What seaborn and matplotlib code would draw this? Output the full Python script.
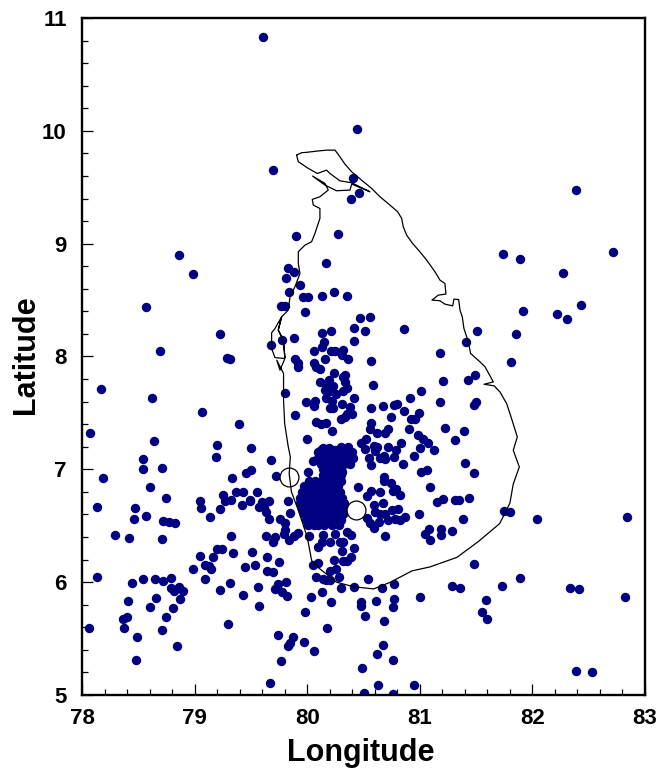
import matplotlib
matplotlib.use("Agg")
import matplotlib.pyplot as plt
from matplotlib.ticker import MultipleLocator
import pandas as pd
import seaborn as sns

# epicentres west of the island
west_lon = [79.07, 79.39, 78.07, 78.64, 79.20, 79.50, 78.54, 79.19, 79.68, 78.54, 78.71, 78.19, 79.33, 79.50, 79.46,
            79.72, 78.60, 78.75, 79.37, 79.43, 79.55, 79.25, 79.27, 79.32, 79.49, 79.49, 79.05, 79.06, 78.13, 78.47,
            79.42, 79.23, 79.60, 79.66, 79.57, 79.62, 79.63, 79.66, 78.57, 79.14, 78.46, 78.72, 78.77, 78.83, 78.29,
            78.42, 78.71, 79.32, 79.63, 79.71, 79.70, 79.20, 79.24, 79.34, 79.51, 79.05, 79.16, 79.64, 79.75, 79.09,
            79.13, 79.15, 79.54, 79.45, 78.99, 79.64, 79.70, 79.09, 78.54, 78.65, 78.72, 78.79, 78.13, 78.44, 79.31,
            79.56, 79.23, 79.71, 79.74, 79.81, 79.78, 79.82, 78.79, 78.82, 78.86, 78.90, 78.87, 78.66, 79.43, 78.41,
            78.60, 79.57, 78.81, 78.75, 78.36, 78.40, 79.30, 78.06, 78.37, 78.71, 78.49, 79.74, 78.84, 79.83, 79.85,
            78.48, 79.77, 79.67]
west_lat = [7.51, 7.40, 7.32, 7.25, 7.22, 7.19, 7.09, 7.11, 7.08, 7.00, 7.01, 6.92, 6.92, 6.99, 6.97,
            6.94, 6.84, 6.75, 6.80, 6.80, 6.80, 6.77, 6.72, 6.73, 6.73, 6.72, 6.72, 6.66, 6.67, 6.66,
            6.68, 6.65, 6.71, 6.72, 6.67, 6.67, 6.62, 6.56, 6.59, 6.58, 6.56, 6.54, 6.53, 6.52, 6.42,
            6.39, 6.38, 6.41, 6.41, 6.40, 6.36, 6.29, 6.29, 6.26, 6.27, 6.23, 6.22, 6.22, 6.18, 6.15,
            6.14, 6.12, 6.15, 6.13, 6.12, 6.10, 6.09, 6.03, 6.03, 6.03, 6.01, 6.04, 6.05, 5.99, 5.99,
            5.96, 5.93, 5.94, 5.98, 6.00, 5.91, 5.88, 5.95, 5.92, 5.96, 5.92, 5.85, 5.86, 5.89, 5.83,
            5.78, 5.79, 5.77, 5.69, 5.67, 5.69, 5.63, 5.59, 5.59, 5.58, 5.51, 5.53, 5.43, 5.43, 5.46,
            5.31, 5.30, 5.11]

# north of the island and the outlying points
north_lon = [79.61, 80.44, 79.70, 80.41, 80.46, 80.39, 80.27, 79.90, 80.17, 79.83, 79.88, 79.81, 79.94, 79.84, 79.96,
             80.01, 80.13, 80.24, 80.35, 79.77, 79.80, 79.98, 80.47, 80.56, 80.42, 80.51, 80.86, 80.21, 80.13, 80.42,
             80.15, 80.13, 80.06, 79.88, 79.78, 79.68, 80.21, 80.25, 80.32, 80.31, 80.36, 80.16, 80.57, 81.18, 81.51,
             81.41, 81.81, 81.85, 81.92, 81.74, 81.89, 79.89, 79.92, 79.92, 80.06, 80.08, 80.11, 79.31]
north_lat = [10.83, 10.02, 9.65, 9.58, 9.45, 9.40, 9.09, 9.07, 8.83, 8.78, 8.75, 8.70, 8.63, 8.57, 8.53,
             8.53, 8.54, 8.57, 8.54, 8.45, 8.45, 8.39, 8.34, 8.35, 8.25, 8.23, 8.24, 8.23, 8.21, 8.14,
             8.13, 8.08, 8.05, 8.16, 8.15, 8.10, 8.05, 8.05, 8.06, 8.01, 7.98, 7.98, 7.96, 8.03, 8.23,
             8.13, 7.95, 8.20, 8.40, 8.91, 8.86, 7.98, 7.94, 7.91, 7.94, 7.91, 7.89, 7.98]
far_lon = [82.39, 82.72, 78.86, 78.99, 78.57, 82.27, 82.43, 82.22, 82.31, 79.23, 78.69, 79.29, 78.17, 78.62, 82.84,
           82.04, 82.33, 82.41, 82.82, 82.39, 82.53, 81.55, 81.60, 81.59, 81.00, 80.95, 80.76, 80.63, 80.50, 80.49,
           80.62, 80.67, 80.18, 80.06, 79.97, 79.87, 79.98, 80.21, 80.03, 80.48, 80.48, 80.61, 80.77, 80.76, 80.51,
           80.68, 80.76]
far_lat = [9.48, 8.93, 8.90, 8.73, 8.44, 8.74, 8.46, 8.38, 8.33, 8.20, 8.05, 7.99, 7.71, 7.63, 6.58,
           6.56, 5.95, 5.94, 5.87, 5.21, 5.20, 5.74, 5.67, 5.84, 5.87, 5.09, 5.01, 5.09, 5.02, 5.24,
           5.36, 5.44, 5.59, 5.39, 5.47, 5.51, 5.74, 5.82, 5.87, 5.82, 5.79, 5.83, 5.85, 5.78, 5.70,
           5.66, 5.31]

# central and eastern part of the island
east_lon = [79.80, 79.99, 80.07, 80.06, 79.89, 80.08, 80.12, 80.17, 80.22, 80.00, 80.05, 80.01,
            80.24, 80.34, 80.32, 80.11, 80.19, 80.17, 80.23, 80.34, 80.35, 80.16, 80.20, 80.26, 80.32,
            80.42, 80.17, 80.22, 80.31, 80.20, 80.23, 80.38, 80.35, 80.40, 80.30, 80.34, 80.58, 81.01,
            81.21, 81.43, 81.49, 80.91, 81.18, 80.67, 80.57, 80.77, 80.80, 80.86, 80.74, 80.99, 80.92,
            80.96, 81.50, 81.48, 80.57, 80.56, 80.62, 80.69, 80.72, 80.90, 81.22, 81.39, 80.98, 81.03,
            81.07, 81.31, 81.00, 81.13, 80.83, 80.79, 80.77, 80.95, 80.72, 80.48, 80.52, 80.51, 80.59,
            80.62, 80.60, 80.55, 80.57, 80.65, 80.68, 80.69, 80.85, 81.40, 81.01, 81.06, 81.48, 80.68,
            80.68, 80.74, 80.79, 80.76, 80.82, 80.45, 80.57, 80.65, 80.53, 80.67, 80.59, 80.60, 81.09,
            81.44, 81.21, 81.15, 81.31, 81.35, 80.81, 80.75, 80.99, 80.87, 80.82, 80.78, 80.72, 80.65,
            80.69, 80.53, 80.56, 80.59, 80.64, 81.38, 81.75, 81.80, 80.69, 81.08, 81.05, 81.09, 81.19,
            81.19, 81.29, 81.485, 81.89, 81.73, 81.29, 81.36, 80.77, 80.54, 80.42, 80.66]
east_lat = [7.68, 7.60, 7.61, 7.56, 7.48, 7.42, 7.40, 7.41, 7.34, 7.27, 7.07, 6.98,
            7.85, 7.84, 7.82, 7.77, 7.79, 7.76, 7.74, 7.77, 7.72, 7.70, 7.69, 7.67, 7.69,
            7.63, 7.63, 7.61, 7.58, 7.54, 7.54, 7.55, 7.49, 7.49, 7.45, 7.46, 7.745, 7.69,
            7.78, 7.79, 7.84, 7.63, 7.60, 7.56, 7.54, 7.57, 7.58, 7.52, 7.46, 7.50, 7.45,
            7.45, 7.60, 7.57, 7.41, 7.36, 7.32, 7.32, 7.36, 7.36, 7.37, 7.34, 7.30, 7.27,
            7.23, 7.26, 7.19, 7.17, 7.23, 7.17, 7.11, 7.12, 7.20, 7.23, 7.27, 7.18, 7.21,
            7.20, 7.16, 7.10, 7.04, 7.10, 7.12, 7.09, 7.05, 7.06, 6.98, 6.99, 6.965, 6.93,
            6.90, 6.88, 6.83, 6.81, 6.77, 6.84, 6.81, 6.80, 6.76, 6.70, 6.68, 6.62, 6.84,
            6.75, 6.74, 6.71, 6.73, 6.73, 6.65, 6.64, 6.60, 6.575, 6.55, 6.56, 6.55, 6.60,
            6.60, 6.57, 6.52, 6.48, 6.53, 6.56, 6.63, 6.62, 6.41, 6.47, 6.43, 6.37, 6.47,
            6.42, 6.45, 6.16, 6.04, 5.97, 5.97, 5.945, 5.98, 6.03, 5.96, 5.95]

# southwest, below the dense cluster
south_lon = [80.02, 79.92, 79.88, 79.84, 79.80, 79.79, 79.76, 79.80, 79.85, 79.83, 80.14, 80.10, 80.13, 80.20, 80.25,
             80.35, 80.39, 80.32, 80.29, 80.42, 80.31, 80.39, 80.35, 80.32, 80.24, 80.10, 80.05, 80.26, 80.20, 80.28,
             80.20, 80.08, 80.14, 80.17, 80.30, 80.13]
south_lat = [6.41, 6.44, 6.41, 6.37, 6.46, 6.43, 6.56, 6.52, 6.61, 6.72, 6.415, 6.31, 6.36, 6.36, 6.43,
             6.445, 6.42, 6.36, 6.36, 6.30, 6.28, 6.22, 6.19, 6.19, 6.20, 6.17, 6.15, 6.12, 6.10, 6.05,
             6.02, 6.05, 6.03, 6.02, 5.95, 5.91]

# dense cluster around Colombo, overlapping points
dense_lon = [80.01, 80.06, 80.10, 80.15, 80.22, 80.28,
             79.99, 80.04, 80.09, 80.14, 80.19, 80.25, 80.30,
             79.97, 80.02, 80.07, 80.12, 80.17, 80.22, 80.27, 80.32,
             79.95, 80.00, 80.05, 80.10, 80.15, 80.20, 80.25, 80.30, 80.33,
             79.94, 79.99, 80.04, 80.09, 80.14, 80.19, 80.24, 80.29, 80.33,
             79.94, 79.99, 80.04, 80.09, 80.14, 80.19, 80.24, 80.31,
             79.95, 80.00, 80.05, 80.10, 80.15, 80.20, 80.25, 80.29,
             79.97, 80.02, 80.07, 80.12, 80.17, 80.22, 80.27,
             80.02, 80.07, 80.12, 80.17, 80.22, 80.27, 80.30,
             80.14, 80.19, 80.24, 80.30,
             80.16, 80.21, 80.26, 80.31,
             80.14, 80.19, 80.24, 80.30,
             80.12, 80.17, 80.22, 80.27, 80.33, 80.38,
             80.10, 80.15, 80.20, 80.26, 80.31, 80.36, 80.41,
             80.10, 80.15, 80.20, 80.27, 80.32, 80.38, 80.40,
             80.12, 80.17, 80.22, 80.25, 80.30, 80.35,
             80.14, 80.19, 80.30, 80.36]
dense_lat = [6.51, 6.51, 6.51, 6.51, 6.51, 6.51,
             6.55, 6.55, 6.55, 6.55, 6.55, 6.55, 6.55,
             6.60, 6.60, 6.60, 6.60, 6.60, 6.60, 6.60, 6.60,
             6.65, 6.65, 6.65, 6.65, 6.65, 6.65, 6.65, 6.65, 6.65,
             6.70, 6.70, 6.70, 6.70, 6.70, 6.70, 6.70, 6.70, 6.70,
             6.75, 6.75, 6.75, 6.75, 6.75, 6.75, 6.75, 6.75,
             6.80, 6.80, 6.80, 6.80, 6.80, 6.80, 6.80, 6.80,
             6.85, 6.85, 6.85, 6.85, 6.85, 6.85, 6.85,
             6.90, 6.90, 6.90, 6.90, 6.90, 6.90, 6.90,
             6.95, 6.95, 6.95, 6.95,
             6.975, 6.975, 6.975, 6.975,
             7.00, 7.00, 7.00, 7.00,
             7.05, 7.05, 7.05, 7.05, 7.05, 7.05,
             7.10, 7.10, 7.10, 7.10, 7.10, 7.10, 7.10,
             7.15, 7.15, 7.15, 7.15, 7.15, 7.15, 7.15,
             7.17, 7.17, 7.17, 7.17, 7.17, 7.17,
             7.19, 7.19, 7.20, 7.20]

# coastline, clockwise from the north
coast_lon = [79.906, 79.950, 79.989, 80.084, 80.172, 80.247, 80.291, 80.335, 80.395, 80.483, 80.572, 80.646, 80.735,
             80.803, 80.839, 80.853, 80.883, 80.936, 81.001, 81.061, 81.135, 81.179, 81.223, 81.232, 81.164, 81.108,
             81.179, 81.223, 81.292, 81.303, 81.345, 81.357, 81.377, 81.392, 81.431, 81.451, 81.534, 81.579, 81.653,
             81.570, 81.660, 81.712, 81.771, 81.815, 81.866, 81.830, 81.884, 81.830, 81.800, 81.710, 81.520, 81.330,
             81.090, 80.930, 80.740, 80.590, 80.410, 80.260, 80.110, 80.040, 80.000, 79.920, 79.860, 79.840, 79.850,
             79.830, 79.800, 79.790, 79.790, 79.730, 79.758, 79.802, 79.714, 79.684, 79.684, 79.714, 79.773, 79.743,
             79.788, 79.802, 79.788, 79.743, 79.773, 79.832, 79.847, 79.891, 79.936, 79.921, 79.921, 79.980, 80.039,
             80.069, 80.113, 80.113, 80.054, 80.045, 80.113, 80.187, 80.158, 80.048, 80.158, 80.261, 80.380, 80.395,
             80.557, 80.395, 80.291, 80.202, 80.172, 80.090, 80.010, 79.921, 79.906]
coast_lat = [9.785, 9.806, 9.809, 9.820, 9.829, 9.829, 9.770, 9.705, 9.637, 9.563, 9.490, 9.416, 9.342,
             9.283, 9.224, 9.150, 9.076, 9.002, 8.928, 8.854, 8.751, 8.677, 8.647, 8.553, 8.544, 8.500,
             8.494, 8.464, 8.449, 8.508, 8.505, 8.411, 8.352, 8.248, 8.130, 8.027, 7.953, 7.909, 7.775,
             7.754, 7.740, 7.686, 7.583, 7.450, 7.287, 7.169, 7.021, 6.870, 6.700, 6.520, 6.360, 6.220,
             6.135, 6.100, 6.000, 5.940, 5.960, 6.000, 6.120, 6.190, 6.400, 6.640, 6.800, 6.960, 7.110,
             7.210, 7.405, 7.610, 7.850, 7.967, 7.879, 7.982, 7.990, 8.071, 8.210, 8.248, 8.352, 8.234,
             8.145, 7.990, 8.145, 8.234, 8.352, 8.411, 8.529, 8.618, 8.736, 8.825, 8.928, 8.987, 9.017,
             9.091, 9.224, 9.312, 9.342, 9.392, 9.416, 9.475, 9.534, 9.599, 9.519, 9.469, 9.475, 9.528,
             9.460, 9.540, 9.557, 9.622, 9.652, 9.622, 9.667, 9.726, 9.785]

# open circle stations
station_lon = [79.84, 80.43]
station_lat = [6.93, 6.64]

lon_all = west_lon + north_lon + far_lon + east_lon + south_lon + dense_lon
lat_all = west_lat + north_lat + far_lat + east_lat + south_lat + dense_lat
points = pd.DataFrame({"lon": lon_all, "lat": lat_all})
stations = pd.DataFrame({"lon": station_lon, "lat": station_lat})
coast = pd.DataFrame({"lon": coast_lon, "lat": coast_lat})

sns.set_theme(style="white")
plt.rcParams["font.family"] = ["Liberation Sans", "DejaVu Sans"]
plt.rcParams["font.weight"] = "bold"

fig = plt.figure(figsize=(6.56, 7.72), dpi=100)
ax = fig.add_axes([82 / 656, (772 - 695) / 772, (645 - 82) / 656, (695 - 18) / 772])

sns.scatterplot(data=points, x="lon", y="lat", color="#000080", s=46, linewidth=0, ax=ax, zorder=2)
sns.scatterplot(data=stations, x="lon", y="lat", color="white", edgecolor="black", s=185, linewidth=0.9, ax=ax, zorder=3)
sns.lineplot(data=coast, x="lon", y="lat", sort=False, estimator=None, color="black", linewidth=0.9, ax=ax, zorder=4)

ax.set_xlim(78, 83)
ax.set_ylim(5, 11)
ax.xaxis.set_major_locator(MultipleLocator(1))
ax.xaxis.set_minor_locator(MultipleLocator(0.2))
ax.yaxis.set_major_locator(MultipleLocator(1))
ax.yaxis.set_minor_locator(MultipleLocator(0.2))
ax.tick_params(which="major", direction="in", length=8, width=0.9, labelsize=16,
               bottom=True, left=True, top=False, right=False, colors="black")
ax.tick_params(which="minor", direction="in", length=4, width=0.9,
               bottom=True, left=True, top=False, right=False, colors="black")
ax.tick_params(axis="x", which="major", pad=9)
ax.tick_params(axis="y", which="major", pad=11)
for spine in ax.spines.values():
    spine.set_linewidth(1.7)
    spine.set_color("black")

ax.set_xlabel("Longitude", fontsize=22, fontweight="bold", color="black")
ax.set_ylabel("Latitude", fontsize=22, fontweight="bold", color="black")
ax.xaxis.set_label_coords((361 - 82) / 563, -0.064)
ax.yaxis.set_label_coords(-0.073, 0.502)

fig.savefig("out.png", dpi=100)
